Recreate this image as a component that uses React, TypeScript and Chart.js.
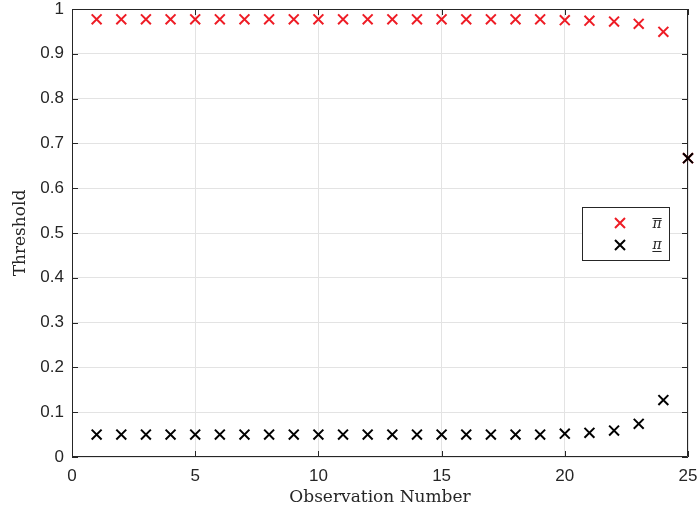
import React, { useEffect, useRef } from "react";
import { Chart, registerables } from "chart.js";

Chart.register(...registerables);

// Observation index 1..25
const observations: number[] = [
  1, 2, 3, 4, 5, 6, 7, 8, 9, 10, 11, 12, 13, 14, 15, 16, 17, 18, 19, 20, 21, 22, 23, 24, 25,
];

// Upper threshold (pi bar)
const upperThreshold: number[] = [
  0.977, 0.977, 0.977, 0.977, 0.977, 0.977, 0.977, 0.977, 0.977, 0.977, 0.977, 0.977, 0.977,
  0.977, 0.977, 0.977, 0.977, 0.977, 0.977, 0.975, 0.974, 0.972, 0.967, 0.949, 0.667,
];

// Lower threshold (pi underbar)
const lowerThreshold: number[] = [
  0.05, 0.05, 0.05, 0.05, 0.05, 0.05, 0.05, 0.05, 0.05, 0.05, 0.05, 0.05, 0.05, 0.05, 0.05,
  0.05, 0.05, 0.05, 0.05, 0.052, 0.054, 0.059, 0.074, 0.127, 0.667,
];

const xTickStep = 5;
const yTickStep = 0.1;

const AXIS_COLOR = "#262626";
const GRID_COLOR = "#e3e3e3";
const RED = "#ee1c25";
const BLACK = "#000000";

// Box around the plot area with inward-pointing ticks on all four sides
const axesBoxPlugin = {
  id: "axesBox",
  beforeDatasetsDraw(chart: any) {
    const { ctx, chartArea, scales } = chart;
    const { left, right, top, bottom } = chartArea;
    const tickLen = 6;
    ctx.save();
    ctx.strokeStyle = AXIS_COLOR;
    ctx.lineWidth = 1;
    ctx.beginPath();
    ctx.rect(left + 0.5, top + 0.5, right - left - 1, bottom - top - 1);
    ctx.stroke();
    ctx.beginPath();
    scales.x.ticks.forEach((t: any) => {
      const px = Math.round(scales.x.getPixelForValue(t.value)) + 0.5;
      ctx.moveTo(px, bottom);
      ctx.lineTo(px, bottom - tickLen);
      ctx.moveTo(px, top);
      ctx.lineTo(px, top + tickLen);
    });
    scales.y.ticks.forEach((t: any) => {
      const py = Math.round(scales.y.getPixelForValue(t.value)) + 0.5;
      ctx.moveTo(left, py);
      ctx.lineTo(left + tickLen, py);
      ctx.moveTo(right, py);
      ctx.lineTo(right - tickLen, py);
    });
    ctx.stroke();
    ctx.restore();
  },
};

function drawCross(ctx: CanvasRenderingContext2D, x: number, y: number, half: number, color: string) {
  ctx.save();
  ctx.strokeStyle = color;
  ctx.lineWidth = 2;
  ctx.beginPath();
  ctx.moveTo(x - half, y - half);
  ctx.lineTo(x + half, y + half);
  ctx.moveTo(x - half, y + half);
  ctx.lineTo(x + half, y - half);
  ctx.stroke();
  ctx.restore();
}

// Boxed legend on the right side of the plot area
const legendBoxPlugin = {
  id: "legendBox",
  afterDraw(chart: any) {
    const { ctx, chartArea } = chart;
    const boxRight = chartArea.right - 18;
    const boxW = 88;
    const boxH = 54;
    const boxLeft = boxRight - boxW;
    const boxTop = chartArea.top + 198;
    ctx.save();
    ctx.fillStyle = "#ffffff";
    ctx.fillRect(boxLeft, boxTop, boxW, boxH);
    ctx.strokeStyle = AXIS_COLOR;
    ctx.lineWidth = 1;
    ctx.strokeRect(boxLeft + 0.5, boxTop + 0.5, boxW - 1, boxH - 1);

    const markerX = boxLeft + 38;
    const textX = boxLeft + 75;
    const row1 = boxTop + 16;
    const row2 = boxTop + 38;
    drawCross(ctx, markerX, row1, 5, RED);
    drawCross(ctx, markerX, row2, 5, BLACK);

    ctx.fillStyle = AXIS_COLOR;
    ctx.font = "italic 14px 'DejaVu Serif'";
    ctx.textAlign = "center";
    ctx.textBaseline = "middle";
    ctx.fillText("π", textX, row1 + 1);
    ctx.fillText("π", textX, row2);
    const w = ctx.measureText("π").width;
    ctx.strokeStyle = AXIS_COLOR;
    ctx.lineWidth = 1;
    ctx.beginPath();
    ctx.moveTo(textX - w / 2, row1 - 4.5);
    ctx.lineTo(textX + w / 2, row1 - 4.5);
    ctx.moveTo(textX - w / 2, row2 + 6.5);
    ctx.lineTo(textX + w / 2, row2 + 6.5);
    ctx.stroke();
    ctx.restore();
  },
};

export default function App() {
  const canvasRef = useRef<HTMLCanvasElement | null>(null);

  useEffect(() => {
    const canvas = canvasRef.current;
    if (!canvas) return;
    const tickFont = { family: "'Liberation Sans', Arial, sans-serif", size: 17 };
    const titleFont = { family: "'DejaVu Serif', serif", size: 17 };

    const chart = new Chart(canvas, {
      type: "scatter",
      data: {
        datasets: [
          {
            label: "upper",
            data: observations.map((x, i) => ({ x, y: upperThreshold[i] })),
            pointStyle: "crossRot",
            pointRadius: 7,
            pointBorderWidth: 2,
            borderColor: RED,
            backgroundColor: RED,
            clip: false,
            order: 2,
          },
          {
            label: "lower",
            data: observations.map((x, i) => ({ x, y: lowerThreshold[i] })),
            pointStyle: "crossRot",
            pointRadius: 7,
            pointBorderWidth: 2,
            borderColor: BLACK,
            backgroundColor: BLACK,
            clip: false,
            order: 1,
          },
        ],
      },
      options: {
        animation: false,
        responsive: false,
        maintainAspectRatio: false,
        devicePixelRatio: 1,
        layout: { padding: { top: 6, right: 12, bottom: 0, left: 0 } },
        plugins: {
          legend: { display: false },
          tooltip: { enabled: false },
        },
        scales: {
          x: {
            type: "linear",
            min: 0,
            max: 25,
            ticks: {
              stepSize: xTickStep,
              padding: 9,
              color: AXIS_COLOR,
              font: tickFont,
              maxRotation: 0,
            },
            grid: { color: GRID_COLOR, drawTicks: false },
            border: { display: false },
            title: {
              display: true,
              text: "Observation Number",
              color: AXIS_COLOR,
              font: titleFont,
              padding: { top: 0, bottom: 4 },
            },
            afterFit(scale: any) {
              scale.height = 55;
              scale.paddingLeft = 0;
              scale.paddingRight = 0;
            },
          },
          y: {
            type: "linear",
            min: 0,
            max: 1,
            ticks: {
              stepSize: yTickStep,
              padding: 8,
              color: AXIS_COLOR,
              font: tickFont,
              callback: (v: any) => String(Number(Number(v).toFixed(1))),
            },
            grid: { color: GRID_COLOR, drawTicks: false },
            border: { display: false },
            title: {
              display: true,
              text: "Threshold",
              color: AXIS_COLOR,
              font: titleFont,
              padding: { top: 10, bottom: 0 },
            },
            afterFit(scale: any) {
              scale.width = 72;
              scale.paddingTop = 0;
              scale.paddingBottom = 0;
            },
          },
        },
      },
      plugins: [axesBoxPlugin, legendBoxPlugin],
    });

    return () => chart.destroy();
  }, []);

  return (
    <div style={{ position: "absolute", left: 0, top: 0, width: 700, height: 512, background: "#ffffff" }}>
      <canvas ref={canvasRef} width={700} height={512} style={{ display: "block" }} />
    </div>
  );
}
